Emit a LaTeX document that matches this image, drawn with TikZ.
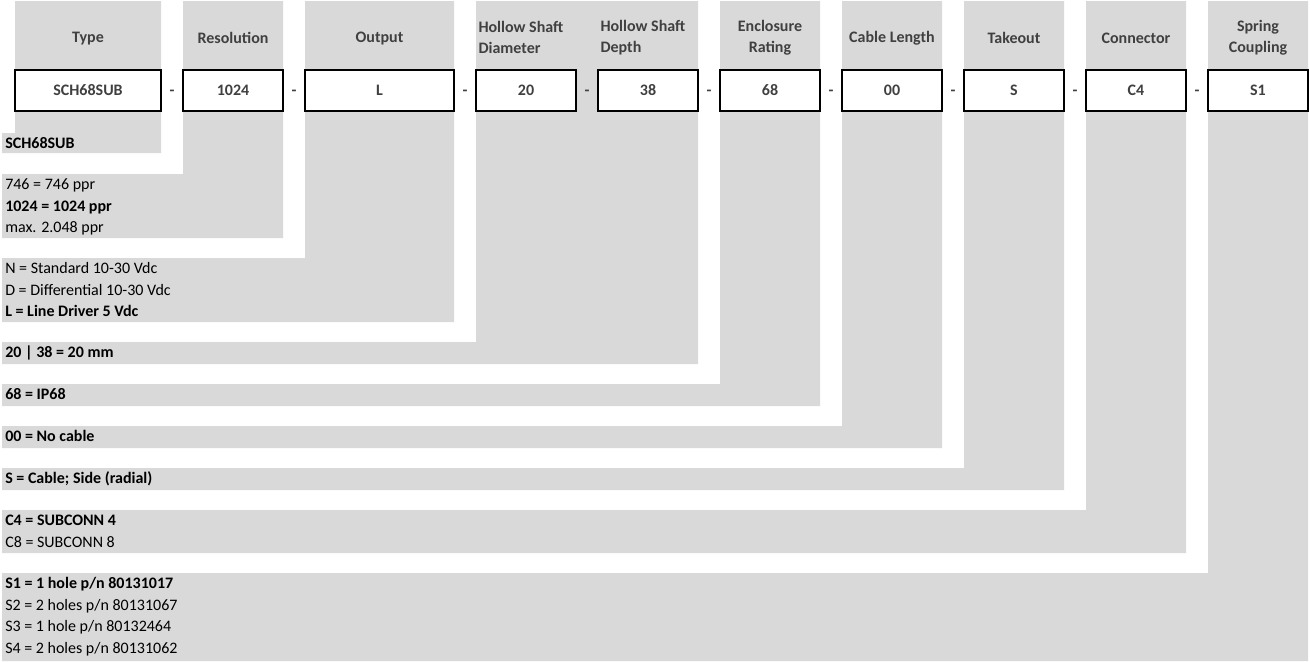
\documentclass[tikz,border=0pt]{standalone}
\usepackage{fontspec}
\setmainfont{Carlito}
\usepackage{xcolor}
\usepackage{tikz}
\usetikzlibrary{positioning, calc}
\definecolor{cellgray}{HTML}{D9D9D9}
\definecolor{headtext}{HTML}{404040}
\newcommand{\cellfont}{\fontsize{12}{15.75}\selectfont}

\begin{document}
\begin{tikzpicture}[x=0.75pt, y=-0.75pt, font=\cellfont,
    head/.style={font=\cellfont\bfseries, text=headtext, align=center, inner sep=0pt},
    valbox/.style={draw=black, line width=1.1pt, fill=white, minimum height=30.75pt, minimum width=#1*0.75pt,
                   inner sep=0pt, text height=10pt, text depth=2.3pt, font=\cellfont\bfseries, text=headtext},
    sep/.style={font=\cellfont\bfseries, text=headtext, inner sep=0pt, text height=10pt, text depth=2.3pt},
    opt/.style={anchor=north west, inner sep=0pt, minimum height=15.75pt, text height=10pt, text depth=2.3pt},
    optb/.style={opt, font=\cellfont\bfseries}]
    \useasboundingbox (0,0) rectangle (1310,661);

    % grey cells
    \fill[cellgray] (15,1) -| (161,153) -| (2,133) -| (15,1) -- cycle;
    \fill[cellgray] (183,1) -| (283,238) -| (2,174) -| (183,1) -- cycle;
    \fill[cellgray] (305,1) -| (454,322) -| (2,258) -| (305,1) -- cycle;
    \fill[cellgray] (476,1) -| (698,364) -| (2,342) -| (476,1) -- cycle;
    \fill[cellgray] (720,1) -| (820,406) -| (2,384) -| (720,1) -- cycle;
    \fill[cellgray] (842,1) -| (942,448) -| (2,426) -| (842,1) -- cycle;
    \fill[cellgray] (964,1) -| (1064,490) -| (2,468) -| (964,1) -- cycle;
    \fill[cellgray] (1086,1) -| (1186,553) -| (2,510) -| (1086,1) -- cycle;
    \fill[cellgray] (1208,1) -| (1308,661) -| (2,573) -| (1208,1) -- cycle;

    % order code
    \node[valbox=146] (TYPE) at (88,90.5) {SCH68SUB};
    \node[valbox=100] (RES) at (233,90.5) {1024};
    \node[valbox=149] (OUT) at (379.5,90.5) {L};
    \node[valbox=100] (DIA) at (526,90.5) {20};
    \node[valbox=100] (DEP) at (648,90.5) {38};
    \node[valbox=100] (ENC) at (770,90.5) {68};
    \node[valbox=100] (CAB) at (892,90.5) {00};
    \node[valbox=100] (TAK) at (1014,90.5) {S};
    \node[valbox=100] (CON) at (1136,90.5) {C4};
    \node[valbox=100] (SPR) at (1258,90.5) {S1};

    \node[sep] (s1) at ($(TYPE.east)!0.5!(RES.west)$) {-};
    \node[sep] (s2) at ($(RES.east)!0.5!(OUT.west)$) {-};
    \node[sep] (s3) at ($(OUT.east)!0.5!(DIA.west)$) {-};
    \node[sep] (s4) at ($(DIA.east)!0.5!(DEP.west)$) {-};
    \node[sep] (s5) at ($(DEP.east)!0.5!(ENC.west)$) {-};
    \node[sep] (s6) at ($(ENC.east)!0.5!(CAB.west)$) {-};
    \node[sep] (s7) at ($(CAB.east)!0.5!(TAK.west)$) {-};
    \node[sep] (s8) at ($(TAK.east)!0.5!(CON.west)$) {-};
    \node[sep] (s9) at ($(CON.east)!0.5!(SPR.west)$) {-};

    % headers
    \node[head] (hType) at ($(TYPE.north)+(0,-31)$) {Type};
    \node[head] (hRes) at ($(RES.north)+(0,-31)$) {Resolution};
    \node[head] (hOut) at ($(OUT.north)+(0,-31)$) {Output};
    \node[head, anchor=west, align=left] (hDia) at ($(DIA.north west)+(3,-32)$) {Hollow Shaft\\Diameter};
    \node[head, anchor=west, align=left] (hDep) at ($(DEP.north west)+(3,-32)$) {Hollow Shaft\\Depth};
    \node[head] (hEnc) at ($(ENC.north)+(0,-32)$) {Enclosure\\Rating};
    \node[head] (hCab) at ($(CAB.north)+(0,-31)$) {Cable Length};
    \node[head] (hTak) at ($(TAK.north)+(0,-31)$) {Takeout};
    \node[head] (hCon) at ($(CON.north)+(0,-31)$) {Connector};
    \node[head] (hSpr) at ($(SPR.north)+(0,-32)$) {Spring\\Coupling};

    % options
    \node[optb] (typ1) at (5,133) {SCH68SUB};

    \node[opt] (res1) at (5,174) {746 = 746 ppr};
    \node[optb, below=0pt of res1.south west, anchor=north west] (res2) {1024 = 1024 ppr};
    \node[opt, below=0pt of res2.south west, anchor=north west] (res3) {max. 2.048 ppr};

    \node[opt] (out1) at (5,258) {N = Standard 10-30 Vdc};
    \node[opt, below=0pt of out1.south west, anchor=north west] (out2) {D = Differential 10-30 Vdc};
    \node[optb, below=0pt of out2.south west, anchor=north west] (out3) {L = Line Driver 5 Vdc};

    \node[optb] (hs1) at (5,342) {20 | 38 = 20 mm};
    \node[optb] (enc1) at (5,384) {68 = IP68};
    \node[optb] (cab1) at (5,426) {00 = No cable};
    \node[optb] (tak1) at (5,468) {S = Cable; Side (radial)};

    \node[optb] (con1) at (5,510) {C4 = SUBCONN 4};
    \node[opt, below=0pt of con1.south west, anchor=north west] (con2) {C8 = SUBCONN 8};

    \node[optb] (spr1) at (5,573) {S1 = 1 hole p/n 80131017};
    \node[opt, below=0pt of spr1.south west, anchor=north west] (spr2) {S2 = 2 holes p/n 80131067};
    \node[opt, below=0pt of spr2.south west, anchor=north west] (spr3) {S3 = 1 hole p/n 80132464};
    \node[opt, below=0pt of spr3.south west, anchor=north west] (spr4) {S4 = 2 holes p/n 80131062};
\end{tikzpicture}
\end{document}
